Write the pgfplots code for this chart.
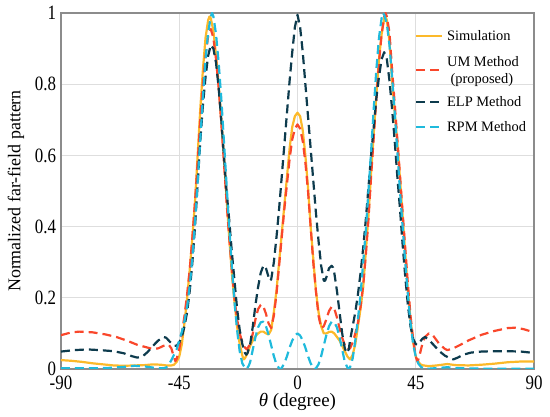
\documentclass[border=0pt]{standalone}
\usepackage{pgfplots}
\pgfplotsset{compat=1.18}
\usepackage{fontspec}
\setmainfont{Liberation Serif}
\definecolor{simc}{HTML}{FCB92A}
\definecolor{umc}{HTML}{F9472B}
\definecolor{elpc}{HTML}{0D3B4D}
\definecolor{rpmc}{HTML}{1FBADC}
\begin{document}
\begin{tikzpicture}
\useasboundingbox (-61bp,-48bp) rectangle (489bp,369bp);
\begin{axis}[
  at={(0,0)}, anchor=south west,
  scale only axis, width=473bp, height=356bp,
  xmin=-90, xmax=90, ymin=0, ymax=1,
  xtick={-90,-45,0,45,90}, xticklabels={-90,-45,0,45,90},
  ytick={0,0.2,0.4,0.6,0.8,1}, yticklabels={0,0.2,0.4,0.6,0.8,1},
  major tick length=0pt,
  grid=major,
  grid style={color=black!13, line width=0.8bp},
  axis line style={color=black!45, line width=1.6bp},
  tick label style={font=\fontsize{17}{17}\selectfont, yscale=1.2},
  xticklabel style={yshift=-2bp},
  yticklabel style={xshift=-1.5bp},
  xlabel={\textit{θ} (degree)},
  ylabel={Normalized far-field pattern},
  xlabel style={font=\fontsize{19}{19}\selectfont, at={(axis description cs:0.5,-0.1067)}, anchor=base},
  ylabel style={font=\fontsize{18}{18}\selectfont, at={(axis description cs:-0.095,0.5)}, anchor=center},
  every axis plot/.append style={line width=2.2bp, line join=round},
]
\addplot[simc] coordinates {
(-90,0.025)(-86,0.023)(-82,0.02)(-78,0.016)(-74,0.013)(-70,0.01)(-66,0.009)(-62,0.01)(-58,0.011)(-55,0.013)(-52,0.012)(-50,0.01)(-48,0.01)(-47,0.012)(-46,0.02)(-45,0.035)(-44,0.07)(-43,0.13)(-42,0.2)(-41,0.28)(-40,0.37)(-39,0.47)(-38,0.6)(-37,0.73)(-36,0.84)(-35,0.93)(-34,0.98)(-33.5,0.99)(-33,0.985)(-32,0.95)(-31,0.88)(-30,0.8)(-29,0.7)(-28,0.6)(-27,0.48)(-26,0.37)(-25,0.27)(-24,0.19)(-23,0.12)(-22,0.07)(-21,0.038)(-20.5,0.027)(-20,0.03)(-19,0.045)(-18,0.065)(-17,0.08)(-16,0.092)(-15,0.1)(-14,0.105)(-13,0.105)(-12,0.1)(-11,0.097)(-10,0.11)(-9,0.16)(-8,0.22)(-7,0.3)(-6,0.38)(-5,0.46)(-4,0.54)(-3,0.62)(-2,0.68)(-1,0.71)(0,0.72)(1,0.71)(2,0.67)(3,0.6)(4,0.51)(5,0.4)(6,0.31)(7,0.22)(8,0.16)(9,0.12)(10,0.1)(11,0.1)(12,0.104)(13,0.105)(14,0.1)(15,0.09)(16,0.08)(17,0.065)(18,0.05)(19,0.035)(20,0.027)(21,0.04)(22,0.07)(23,0.12)(24,0.17)(25,0.23)(26,0.33)(27,0.43)(28,0.55)(29,0.66)(30,0.77)(31,0.87)(32,0.94)(33,0.985)(33.5,0.99)(34,0.98)(35,0.92)(36,0.81)(37,0.72)(38,0.635)(39,0.535)(40,0.43)(41,0.325)(42,0.22)(43,0.14)(44,0.075)(45,0.035)(46,0.02)(47,0.012)(48,0.01)(50,0.008)(53,0.01)(57,0.014)(60,0.011)(65,0.01)(70,0.012)(75,0.015)(80,0.019)(85,0.021)(90,0.021)
};
\addplot[umc, dash pattern=on 9bp off 5bp] coordinates {
(-90,0.095)(-86,0.103)(-83,0.105)(-78,0.103)(-73,0.097)(-69,0.09)(-65,0.08)(-61,0.068)(-57,0.06)(-55,0.056)(-53,0.058)(-51,0.065)(-49,0.068)(-48,0.058)(-47.3,0.04)(-46.5,0.022)(-46,0.028)(-45,0.055)(-44,0.1)(-43,0.15)(-42,0.21)(-41,0.28)(-40,0.37)(-39,0.47)(-38,0.58)(-37,0.7)(-36,0.8)(-35,0.88)(-34,0.935)(-33,0.955)(-32,0.93)(-31,0.87)(-30,0.79)(-29,0.69)(-28,0.58)(-27,0.47)(-26,0.37)(-25,0.28)(-24,0.2)(-23,0.14)(-22,0.1)(-21,0.075)(-20,0.06)(-19.3,0.055)(-18,0.07)(-17,0.1)(-16,0.14)(-15,0.168)(-14,0.18)(-13.5,0.18)(-13,0.176)(-12,0.155)(-11,0.128)(-10,0.115)(-9,0.15)(-8,0.21)(-7,0.29)(-6,0.37)(-5,0.45)(-4,0.52)(-3,0.59)(-2,0.645)(-1,0.675)(0,0.687)(1,0.675)(2,0.64)(3,0.58)(4,0.5)(5,0.4)(6,0.3)(7,0.22)(8,0.15)(9,0.115)(10,0.12)(11,0.14)(12,0.163)(13,0.175)(14,0.17)(15,0.145)(16,0.115)(17,0.088)(18,0.067)(19,0.055)(20,0.058)(21,0.075)(22,0.1)(23,0.13)(24,0.175)(25,0.235)(26,0.32)(27,0.42)(28,0.54)(29,0.65)(30,0.76)(31,0.86)(32,0.94)(33,0.99)(33.5,1.0)(34,0.99)(35,0.945)(36,0.84)(37,0.745)(38,0.645)(39,0.545)(40,0.44)(41,0.34)(42,0.24)(43,0.15)(44,0.085)(45,0.035)(45.7,0.02)(46.5,0.04)(47.5,0.07)(48.5,0.09)(50,0.1)(51,0.098)(52,0.09)(54,0.07)(56,0.057)(57,0.053)(59,0.057)(62,0.068)(65,0.08)(70,0.096)(75,0.107)(80,0.115)(83,0.116)(86,0.112)(90,0.103)
};
\addplot[elpc, dash pattern=on 9bp off 5bp] coordinates {
(-90,0.049)(-85,0.053)(-80,0.055)(-75,0.053)(-70,0.05)(-66,0.044)(-63,0.036)(-61,0.032)(-59,0.035)(-57,0.048)(-55,0.065)(-53,0.08)(-51,0.09)(-50,0.088)(-49,0.08)(-48,0.072)(-47,0.066)(-46,0.065)(-45,0.075)(-44,0.09)(-43,0.12)(-42,0.16)(-41,0.22)(-40,0.3)(-39,0.4)(-38,0.52)(-37,0.64)(-36,0.74)(-35,0.82)(-34,0.88)(-33,0.91)(-32,0.9)(-31,0.86)(-30,0.79)(-29,0.7)(-28,0.6)(-27,0.5)(-26,0.42)(-25,0.33)(-24,0.25)(-23,0.17)(-22,0.11)(-21,0.07)(-20,0.045)(-19.5,0.04)(-19,0.045)(-18,0.07)(-17,0.12)(-16,0.18)(-15,0.23)(-14,0.27)(-13,0.29)(-12.5,0.29)(-12,0.283)(-11,0.258)(-10.5,0.248)(-10,0.252)(-9,0.3)(-8,0.37)(-7,0.45)(-6,0.54)(-5,0.63)(-4,0.72)(-3,0.81)(-2,0.89)(-1,0.96)(0,0.995)(1,0.96)(2,0.89)(3,0.8)(4,0.71)(5,0.62)(6,0.53)(7,0.44)(8,0.36)(9,0.29)(10,0.248)(10.5,0.248)(11,0.258)(12,0.283)(13,0.29)(13.5,0.285)(14,0.27)(15,0.22)(16,0.16)(17,0.1)(18,0.058)(18.7,0.045)(19.5,0.055)(20,0.08)(21,0.12)(22,0.16)(23,0.21)(24,0.27)(25,0.34)(26,0.42)(27,0.51)(28,0.6)(29,0.68)(30,0.76)(31,0.82)(32,0.87)(33,0.89)(34,0.87)(35,0.81)(36,0.73)(37,0.64)(38,0.54)(39,0.45)(40,0.35)(41,0.26)(42,0.18)(43,0.12)(44,0.085)(45,0.07)(45.5,0.068)(46.5,0.075)(47.5,0.085)(48.5,0.09)(50,0.082)(52,0.066)(54,0.05)(56,0.038)(58,0.03)(59.3,0.027)(61,0.032)(63,0.04)(66,0.046)(70,0.049)(75,0.05)(80,0.05)(85,0.049)(90,0.045)
};
\addplot[rpmc, dash pattern=on 9bp off 5bp] coordinates {
(-90,0.002)(-80,0.002)(-72,0.003)(-66,0.006)(-62,0.009)(-58,0.007)(-54,0.003)(-51,0.002)(-50,0.004)(-49,0.012)(-48,0.025)(-47,0.04)(-46,0.055)(-45,0.08)(-44,0.105)(-43,0.135)(-42,0.175)(-41,0.235)(-40,0.315)(-39,0.415)(-38,0.525)(-37,0.645)(-36,0.765)(-35,0.87)(-34,0.945)(-33,0.99)(-32.5,1.0)(-32,0.99)(-31,0.94)(-30,0.86)(-29,0.76)(-28,0.64)(-27,0.52)(-26,0.4)(-25,0.29)(-24,0.19)(-23,0.11)(-22,0.05)(-21,0.016)(-20,0.003)(-19.3,0)(-18.5,0.01)(-18,0.02)(-17,0.055)(-16,0.09)(-15,0.117)(-14,0.131)(-13,0.133)(-12,0.12)(-11,0.096)(-10,0.066)(-9,0.036)(-8,0.013)(-7,0.002)(-6.5,0)(-6,0.003)(-5,0.016)(-4,0.036)(-3,0.06)(-2,0.08)(-1,0.094)(0,0.1)(1,0.094)(2,0.08)(3,0.06)(4,0.036)(5,0.016)(6,0.003)(6.5,0)(7,0.002)(8,0.013)(9,0.036)(10,0.066)(11,0.096)(12,0.12)(13,0.133)(14,0.131)(15,0.117)(16,0.09)(17,0.055)(18,0.02)(19,0.004)(19.5,0)(20,0.005)(21,0.03)(22,0.08)(23,0.14)(24,0.21)(25,0.3)(26,0.39)(27,0.5)(28,0.61)(29,0.73)(30,0.84)(31,0.93)(32,0.985)(32.5,1.0)(33,0.995)(34,0.97)(35,0.91)(36,0.82)(37,0.72)(38,0.61)(39,0.5)(40,0.4)(41,0.3)(42,0.21)(43,0.13)(44,0.07)(45,0.035)(46,0.015)(47,0.006)(48,0.002)(48.5,0)(52,0.002)(57,0.005)(62,0.002)(70,0.001)(80,0.001)(90,0.001)
};
\end{axis}
% legend (drawn by hand, relative to the axis' lower-left corner)
\begin{scope}[line width=2.2bp, every node/.style={inner sep=0pt, font=\fontsize{14.5}{16.6}\selectfont}]
\draw[simc] (355bp,333bp) -- (381bp,333bp);
\node[anchor=base west] at (385bp,328bp) {Simulation};
\draw[umc, dash pattern=on 9bp off 5bp] (355bp,299bp) -- (378.5bp,299bp);
\node[anchor=base west] at (385bp,302.3bp) {UM Method};
\node[anchor=base] at (420.8bp,285.7bp) {(proposed)};
\draw[elpc, dash pattern=on 9bp off 5bp] (355bp,267.3bp) -- (378.5bp,267.3bp);
\node[anchor=base west] at (385bp,262.3bp) {ELP Method};
\draw[rpmc, dash pattern=on 9bp off 5bp] (355bp,242.3bp) -- (378.5bp,242.3bp);
\node[anchor=base west] at (385bp,237.3bp) {RPM Method};
\end{scope}
\end{tikzpicture}
\end{document}
